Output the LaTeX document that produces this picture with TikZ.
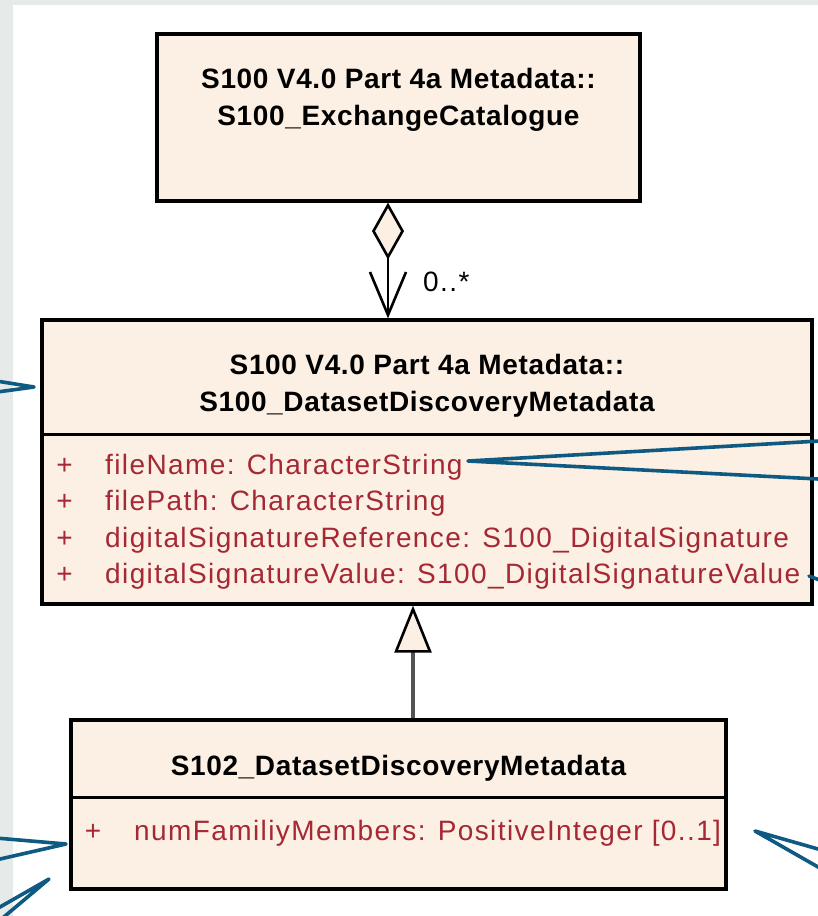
\documentclass[tikz,border=0pt]{standalone}
\usepackage{fontspec}
\setmainfont{Liberation Sans}
\newfontfamily\titlefont[LetterSpace=2.3]{Liberation Sans}
\newfontfamily\attrfont[LetterSpace=5.0]{Liberation Sans}
\usetikzlibrary{arrows.meta}
\definecolor{boxfill}{RGB}{251,240,227}
\definecolor{attrc}{RGB}{165,40,52}
\definecolor{noteblue}{RGB}{15,90,130}
\definecolor{bggray}{RGB}{230,235,234}
\begin{document}
\begin{tikzpicture}[x=1pt,y=-1pt,
  box/.style={draw=black, line width=3.2pt, fill=boxfill, inner sep=0pt},
  ttl/.style={font=\titlefont\bfseries\fontsize{28}{34}\selectfont, anchor=base, inner sep=0pt, text=black},
  attr/.style={font=\attrfont\fontsize{28}{34}\selectfont, anchor=base west, inner sep=0pt, text=attrc},
  plus/.style={font=\attrfont\fontsize{28}{34}\selectfont, anchor=base, inner sep=0pt, text=attrc},
  note/.style={draw=noteblue, line width=3.6pt, line join=round, line cap=round},
  divider/.style={draw=black, line width=3.2pt}
]
\useasboundingbox (0,0) rectangle (818,916);
\fill[bggray] (0,0) rectangle (818,916);
\fill[white] (13,5) rectangle (818,916);

% boxes
\node[box, minimum width=483pt, minimum height=167pt] (top) at (398.5,117.5) {};
\node[box, minimum width=770pt, minimum height=284pt] (mid) at (427,462) {};
\node[box, minimum width=655pt, minimum height=169pt] (bot) at (398.5,804.5) {};

\draw[divider] ([yshift=-116pt]mid.north west) -- ([yshift=-116pt]mid.north east);
\draw[divider] ([yshift=-79pt]bot.north west) -- ([yshift=-79pt]bot.north east);

% titles
\node[ttl] (topt1) at (398.5,88) {S100 V4.0 Part 4a Metadata::};
\node[ttl] (topt2) at (398.5,125) {S100\_ExchangeCatalogue};
\node[ttl] (midt1) at (427,374) {S100 V4.0 Part 4a Metadata::};
\node[ttl] (midt2) at (427,411) {S100\_DatasetDiscoveryMetadata};
\node[ttl] (bott1) at (398.5,775) {S102\_DatasetDiscoveryMetadata};

% attributes
\node[plus] (p1) at (64.5,474) {+};
\node[plus] (p2) at (64.5,510.5) {+};
\node[plus] (p3) at (64.5,547) {+};
\node[plus] (p4) at (64.5,583.5) {+};
\node[attr] (a1) at (105,474) {fileName: CharacterString};
\node[attr] (a2) at (105,510.5) {filePath: CharacterString};
\node[attr] (a3) at (105,547) {digitalSignatureReference: S100\_DigitalSignature};
\node[attr] (a4) at (105,583.5) {digitalSignatureValue: S100\_DigitalSignatureValue};
\node[plus] (p5) at (93,840) {+};
\node[attr] (a5) at (134,840) {numFamiliyMembers: PositiveInteger [0..1]};

% aggregation
\draw[line width=2.6pt, line join=miter,
  {Diamond[length=57pt,width=32pt,fill=boxfill,color=black]}-{Straight Barb[length=43pt,width=36pt]}]
  ([xshift=-10.5pt]top.south) -- ([xshift=-39pt]mid.north);
\node[font=\attrfont\fontsize{28}{34}\selectfont, anchor=base west, inner sep=0pt] (mult) at (423,291) {0..*};

% generalization
\draw[line width=3.2pt, draw=gray!65!black,
  -{Triangle[length=47pt,width=37pt,fill=boxfill,color=black,line width=2.6pt]}]
  ([xshift=14.5pt]bot.north) -- ([xshift=-14pt]mid.south);

% note links (partly outside)
\coordinate (n1) at (34,387);
\draw[note] (-10,380) -- (n1) -- (-10,393);
\coordinate (n2) at (468,461);
\draw[note] (830,440.4) -- (n2) -- (830,479.6);
\coordinate (n3) at (809,576);
\draw[note] (n3) -- (830,584);
\coordinate (n4) at (66,844);
\draw[note] (-10,837.5) -- (n4) -- (-10,861.3);
\coordinate (n5) at (49,879);
\draw[note] (-10,912.7) -- (n5) -- (-5,924.4);
\coordinate (n6) at (755,831);
\draw[note] (830,852.4) -- (n6) -- (830,873.8);
\end{tikzpicture}
\end{document}
